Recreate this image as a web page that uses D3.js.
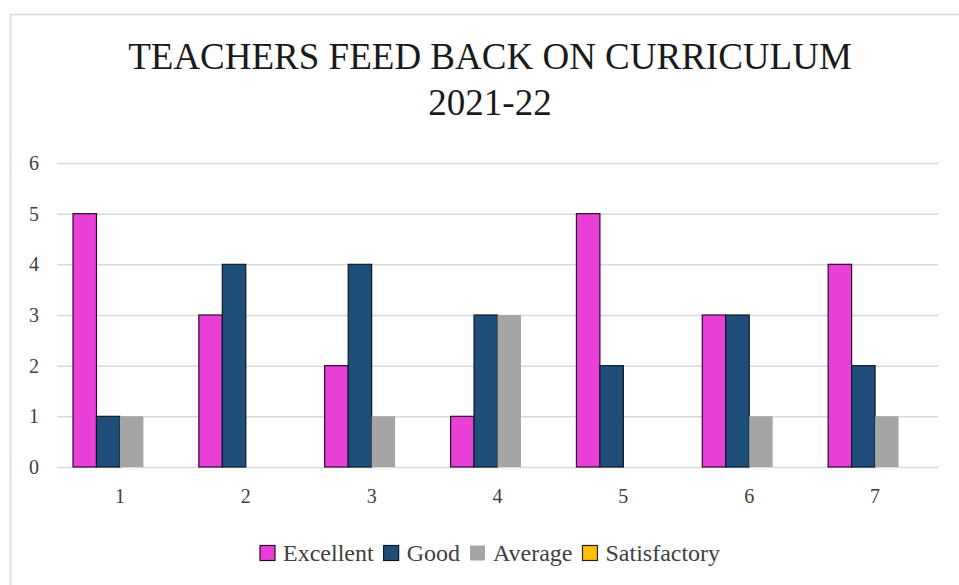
<!DOCTYPE html>
<html>
<head>
<meta charset="utf-8">
<script src="https://cdn.jsdelivr.net/npm/d3@7"></script>
</head>
<body style="margin:0;background:#fff">
<svg id="s" width="959" height="585" style="display:block"></svg>
<script>
const categories = ["1","2","3","4","5","6","7"];
const seriesNames = ["Excellent","Good","Average","Satisfactory"];
const excellent = [5,3,2,1,5,3,4];
const good = [1,4,4,3,2,3,2];
const average = [1,0,1,3,0,1,1];
const satisfactory = [0,0,0,0,0,0,0];
const yTicks = [0,1,2,3,4,5,6];
const titleLines = ["TEACHERS FEED BACK ON CURRICULUM","2021-22"];

(function(){
const seriesValues = [excellent, good, average, satisfactory];
const colors = ["#e83fd6","#1f4e79","#a5a5a5","#ffc000"];
const strokes = ["#2a0a2a","#0a1a2a","none","#222"];
const FONT = '"Liberation Serif", "Times New Roman", Tinos, serif';

const svg = d3.select("#s");
function txt(sel){ return sel.attr("font-family", FONT).style("font-family", FONT, "important"); }

// frame
svg.append("rect").attr("x",10.5).attr("y",14.5).attr("width",970).attr("height",600)
  .attr("fill","#fff").attr("stroke","#d9d9d9").attr("stroke-width",1.5);

const pLeft = 57, pRight = 938, pTop = 163, pBottom = 467;

const x0 = d3.scaleBand().domain(categories).range([pLeft,pRight]).padding(0);
const groupPad = 16;
const x1 = d3.scaleBand().domain(seriesNames).range([groupPad, x0.bandwidth()-groupPad]).padding(0);
const y = d3.scaleLinear().domain([0,6]).range([pBottom, pTop]);

// gridlines
svg.append("g").selectAll("line").data(yTicks).join("line")
  .attr("x1",pLeft).attr("x2",pRight)
  .attr("y1",d=>y(d)+0.5).attr("y2",d=>y(d)+0.5)
  .attr("stroke","#d9d9d9").attr("stroke-width",1.5);

// y labels
txt(svg.append("g").selectAll("text").data(yTicks).join("text")
  .attr("x",34).attr("y",d=>y(d)).attr("dy","0.35em")
  .attr("text-anchor","middle").attr("font-size",20).attr("fill","#404040"))
  .text(d=>d);

// bars
const data = [];
categories.forEach((c,i)=>{
  seriesNames.forEach((s,j)=>{
    data.push({cat:c, series:s, idx:j, value:seriesValues[j][i]});
  });
});
svg.append("g").selectAll("rect").data(data.filter(d=>d.value>0)).join("rect")
  .attr("x",d=>x0(d.cat)+x1(d.series))
  .attr("y",d=>y(d.value))
  .attr("width",x1.bandwidth())
  .attr("height",d=>y(0)-y(d.value))
  .attr("fill",d=>colors[d.idx])
  .attr("stroke",d=>strokes[d.idx])
  .attr("stroke-width",1.2);

// x labels
txt(svg.append("g").selectAll("text").data(categories).join("text")
  .attr("x",d=>x0(d)+x0.bandwidth()/2).attr("y",503)
  .attr("text-anchor","middle").attr("font-size",20).attr("fill","#404040"))
  .text(d=>d);

// title
txt(svg.append("g").selectAll("text").data(titleLines).join("text")
  .attr("x",490).attr("y",(d,i)=>69+i*46)
  .attr("text-anchor","middle").attr("font-size",37).attr("fill","#1a1a1a"))
  .text(d=>d);

// legend
const legend = svg.append("g");
let lx = 260;
const ly = 553;
seriesNames.forEach((s,j)=>{
  legend.append("rect").attr("x",lx).attr("y",ly-7.5).attr("width",15).attr("height",15)
    .attr("fill",colors[j]).attr("stroke",strokes[j]).attr("stroke-width",1.2);
  const t = txt(legend.append("text").attr("x",lx+23).attr("y",ly).attr("dy","0.35em")
    .attr("font-size",24).attr("fill","#404040")).text(s);
  const w = t.node().getComputedTextLength();
  lx = lx + 23 + w + 10;
});
})();
</script>
</body>
</html>
